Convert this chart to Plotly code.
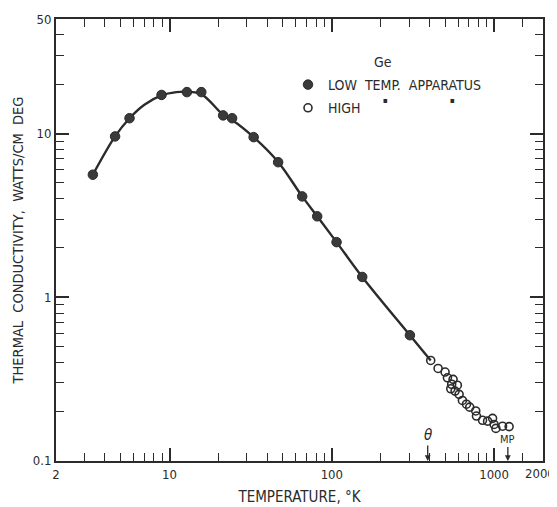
import math
import plotly.graph_objects as go

# ---- data ----
T_low = [3.37, 4.62, 5.67, 8.93, 12.8, 15.7, 21.4, 24.3, 33.0, 46.7, 65.7, 81.3, 107, 154, 303]
K_low = [5.6, 9.6, 12.4, 17.2, 17.9, 17.9, 12.9, 12.4, 9.5, 6.68, 4.13, 3.12, 2.17, 1.33, 0.586]

T_high = [407, 452, 499, 516, 559, 548, 594, 541, 575, 609, 638, 676, 708, 771, 779,
          849, 912, 979, 1000, 1026, 1128, 1238]
K_high = [0.411, 0.367, 0.349, 0.322, 0.315, 0.294, 0.290, 0.276, 0.267, 0.255, 0.234,
          0.222, 0.213, 0.202, 0.188, 0.177, 0.175, 0.182, 0.167, 0.158, 0.163, 0.162]

T_curve = [3.37, 4.62, 5.67, 7.0, 8.93, 11.0, 12.8, 15.7, 21.4, 24.3, 33.0, 46.7, 65.7,
           81.3, 107, 154, 303, 407]
K_curve = [5.6, 9.6, 12.4, 15.0, 17.1, 17.9, 18.0, 17.4, 13.0, 12.1, 9.5, 6.7, 4.13,
           3.12, 2.17, 1.33, 0.586, 0.411]

x_major = [2, 10, 100, 1000, 2000]
x_major_text = ["2", "10", "100", "1000", "2000"]
x_minor = [3, 4, 5, 6, 7, 8, 9, 20, 30, 40, 50, 60, 70, 80, 90,
           200, 300, 400, 500, 600, 700, 800, 900, 1500]
y_major = [0.1, 1, 10, 50]
y_major_text = ["0.1", "1", "10", "50"]
y_minor = [0.2, 0.3, 0.4, 0.5, 0.6, 0.7, 0.8, 0.9, 2, 3, 4, 5, 6, 7, 8, 9, 20, 30, 40]

T_debye = 390
T_melt = 1216

INK = "#2b2b2b"
FONT = "DejaVu Sans Condensed, Liberation Sans Narrow, DejaVu Sans, sans-serif"

X_RANGE = [math.log10(2) - 0.0005, math.log10(2000) + 0.0005]
Y_RANGE = [-1.0005, math.log10(50) + 0.0005]

# the page body has an 8px margin: plot area 56..543 x 19..461 in the window
W, H = 549, 499
ML, MR, MT, MB = 48, 14, 11, 46
PW, PH = W - ML - MR, H - MT - MB


def px(xw):  # window pixel -> paper x
    return (xw - 8 - ML) / PW


def py(yw):  # window pixel -> paper y
    return 1 - (yw - 8 - MT) / PH


fig = go.Figure()
fig.add_trace(go.Scatter(x=T_curve, y=K_curve, mode="lines", line=dict(color=INK, width=2.4,
                         shape="spline", smoothing=1.0), showlegend=False, hoverinfo="skip",
                         xaxis="x", yaxis="y"))
fig.add_trace(go.Scatter(x=T_low, y=K_low, mode="markers", name="LOW  TEMP.  APPARATUS",
                         legendgroup="a", xaxis="x2", yaxis="y2",
                         marker=dict(symbol="circle", size=9.5, color="#3a3a3a",
                                     line=dict(color=INK, width=1))))
fig.add_trace(go.Scatter(x=T_high, y=K_high, mode="markers", name="HIGH",
                         legendgroup="b", xaxis="x2", yaxis="y2",
                         marker=dict(symbol="circle-open", size=8, color=INK,
                                     line=dict(width=1.6))))

tickfont = dict(family=FONT, size=13, color=INK)
major = dict(type="log", showline=True, linecolor=INK, linewidth=2, mirror="ticks",
             ticks="inside", ticklen=13, tickwidth=2, tickcolor=INK, showgrid=False,
             zeroline=False, tickfont=tickfont, automargin=False, tickmode="array")
minor = dict(type="log", showline=False, mirror="ticks",
             ticks="inside", ticklen=8, tickwidth=1, tickcolor=INK, showgrid=False,
             zeroline=False, showticklabels=False, automargin=False, tickmode="array")

# the last x label sits at the page edge; it is drawn as an annotation instead
x_axis_text = x_major_text[:-1] + [""]

fig.update_layout(
    xaxis=dict(**major, range=X_RANGE, tickvals=x_major, ticktext=x_axis_text,
               title=dict(text="TEMPERATURE, °K", font=dict(family=FONT, size=15, color=INK),
                          standoff=11)),
    yaxis=dict(**major, range=Y_RANGE, tickvals=y_major, ticktext=y_major_text,
               title=dict(text="THERMAL  CONDUCTIVITY,  WATTS/CM  DEG",
                          font=dict(family=FONT, size=14.5, color=INK), standoff=6)),
    xaxis2=dict(**minor, range=X_RANGE, tickvals=x_minor, overlaying="x", anchor="y2",
                side="bottom"),
    yaxis2=dict(**minor, range=Y_RANGE, tickvals=y_minor, overlaying="y", anchor="x2",
                side="left"),
)

annotations = [
    dict(text="Ge", xref="paper", yref="paper", x=px(383), y=py(62), xanchor="center",
         yanchor="middle", showarrow=False, font=dict(family=FONT, size=14, color=INK)),
    dict(text="▪", xref="paper", yref="paper", x=px(385), y=py(100), xanchor="center",
         yanchor="middle", showarrow=False, font=dict(family=FONT, size=8, color=INK)),
    dict(text="▪", xref="paper", yref="paper", x=px(452), y=py(100), xanchor="center",
         yanchor="middle", showarrow=False, font=dict(family=FONT, size=8, color=INK)),
    dict(text=x_major_text[-1], xref="paper", yref="paper", x=px(557), y=py(474),
         xanchor="right", yanchor="middle", showarrow=False, font=tickfont),
    dict(text="<i>θ</i>", x=math.log10(T_debye), y=0, xref="x", yref="paper",
         showarrow=True, arrowhead=2, arrowsize=0.9, arrowwidth=1.3, arrowcolor=INK,
         ax=0, ay=-26, font=dict(family=FONT, size=15, color=INK)),
    dict(text="MP", x=math.log10(T_melt), y=0, xref="x", yref="paper",
         showarrow=True, arrowhead=2, arrowsize=0.9, arrowwidth=1.3, arrowcolor=INK,
         ax=0, ay=-22, font=dict(family=FONT, size=11, color=INK)),
]

fig.update_layout(
    width=W, height=H,
    margin=dict(l=ML, r=MR, t=MT, b=MB),
    paper_bgcolor="white", plot_bgcolor="rgba(0,0,0,0)",
    font=dict(family=FONT, color=INK),
    annotations=annotations,
    legend=dict(x=px(288), y=py(69), xanchor="left", yanchor="top",
                bgcolor="rgba(0,0,0,0)", font=dict(family=FONT, size=14, color=INK),
                itemwidth=30, traceorder="grouped", tracegroupgap=2),
)

# force a layout pass after plotting so that every tick path is painted
repaint = """
document.querySelectorAll('path.ticks').forEach(function(p){
  p.getBoundingClientRect(); getComputedStyle(p).strokeWidth;
});
var d = document.createElement('div');
d.style.cssText = 'position:absolute;left:0;top:0;width:0;height:0;';
document.body.appendChild(d);
"""
fig.write_html("out.html", post_script=repaint)
